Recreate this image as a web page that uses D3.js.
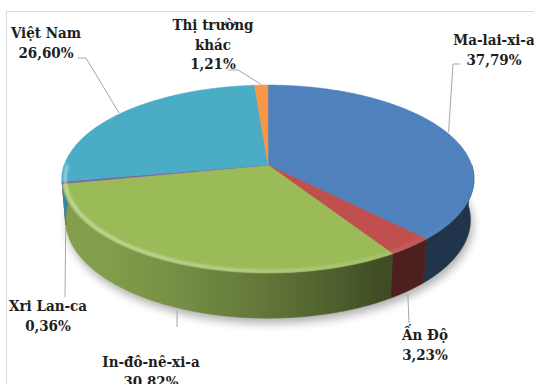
<!DOCTYPE html>
<html>
<head>
<meta charset="utf-8">
<script src="https://cdn.jsdelivr.net/npm/d3@7"></script>
<style>
  html, body { margin: 0; padding: 0; background: #fff; }
  svg { display: block; }
  .lbl { font-family: "DejaVu Serif Condensed", "DejaVu Serif", serif; font-stretch: condensed;
         font-weight: bold; font-size: 15px; fill: #1e1e1e; }
</style>
</head>
<body>
<svg id="chart" width="534" height="384"></svg>
<script>
// Market shares (%), clockwise from 12 o'clock
const categories = ["Ma-lai-xi-a", "Ấn Độ", "In-đô-nê-xi-a", "Xri Lan-ca", "Việt Nam", "Thị trường khác"];
const shares = [37.79, 3.23, 30.82, 0.36, 26.60, 1.21];
const colors = ["#4f81bd", "#c0504d", "#9bbb59", "#8064a2", "#4bacc6", "#f79646"];

// Label placement: where the leader line bends/ends and where the text block sits
const labelLayout = [
  { from: "top",  via: [[453, 64], [460, 64]], x: 494, y: 45, lines: ["Ma-lai-xi-a"] },
  { from: "side", via: [[409, 323]],           x: 425, y: 340, lines: ["Ấn Độ"] },
  { from: "side", via: [[177, 327]],           x: 151, y: 367, lines: ["In-đô-nê-xi-a"] },
  { from: "side", via: [[65, 297]],            x: 48,  y: 311, lines: ["Xri Lan-ca"] },
  { from: "top",  via: [[86, 58], [78, 58]],   x: 46,  y: 38, lines: ["Việt Nam"] },
  { from: "top",  via: [[238, 70], [228, 70]], x: 213, y: 30, lines: ["Thị trường", "khác"] }
];

const W = 534, H = 384;
const svg = d3.select("#chart");
const defs = svg.append("defs");

// Frame of the chart area
svg.append("path")
  .attr("d", `M6.5,${H} V11.5 H${W}`)
  .attr("fill", "none").attr("stroke", "#d9d9d9").attr("stroke-width", 1);

// Perspective projection of a tilted disc (unit radius, thickness h)
const cam = { cx: 268, cy: 165, f: 1220, D: 5.99, tilt: Math.asin(0.451), h: 0.226 };
const sA = Math.sin(cam.tilt), cA = Math.cos(cam.tilt);
function proj(theta, r, Y) {
  const X = r * Math.sin(theta), Z = -r * Math.cos(theta);
  const yc = Y * cA - Z * sA;
  const d = cam.D - (Y * sA + Z * cA);
  return [cam.cx + cam.f * X / d, cam.cy - cam.f * yc / d];
}

const pie = d3.pie().sort(null).value(d => d)(shares);
const slices = pie.map((p, i) => ({ ...p, name: categories[i], color: colors[i] }));

function arcPoints(a0, a1, r, Y) {
  const n = Math.max(2, Math.ceil((a1 - a0) / (Math.PI / 360)));
  return d3.range(n + 1).map(k => proj(a0 + (a1 - a0) * k / n, r, Y));
}

const line = d3.line();

// Soft drop shadow under the disc
const blur = defs.append("filter").attr("id", "shadowBlur")
  .attr("x", "-20%").attr("y", "-20%").attr("width", "140%").attr("height", "140%");
blur.append("feGaussianBlur").attr("stdDeviation", 5);
const bottomRing = arcPoints(0, 2 * Math.PI, 1, -cam.h);
svg.append("path")
  .attr("d", line(bottomRing) + "Z")
  .attr("transform", "translate(2,5)")
  .attr("fill", "#000").attr("opacity", 0.32)
  .attr("filter", "url(#shadowBlur)");

// Side wall of each slice, shaded by a light from the front-left (horizontal gradient)
const lightAngle = 240 * Math.PI / 180;
const shade = t => 0.4 + 0.45 * Math.max(0, Math.cos(t - lightAngle));
const sideG = svg.append("g");
const xLeft = proj(1.5 * Math.PI, 1, 0)[0] - 4, xRight = proj(0.5 * Math.PI, 1, 0)[0] + 4;
slices.forEach((s, i) => {
  const a0 = Math.max(s.startAngle, Math.PI / 2), a1 = Math.min(s.endAngle, 3 * Math.PI / 2);
  if (a1 <= a0) return;
  const base = d3.rgb(s.color);
  const gid = "side" + i;
  const g = defs.append("linearGradient").attr("id", gid)
    .attr("gradientUnits", "userSpaceOnUse")
    .attr("x1", xLeft).attr("x2", xRight).attr("y1", 0).attr("y2", 0);
  const n = 24;
  d3.range(n + 1).map(k => a1 - (a1 - a0) * k / n).forEach(t => {
    const k2 = shade(t);
    const x = proj(t, 1, -cam.h)[0];
    g.append("stop").attr("offset", Math.min(1, Math.max(0, (x - xLeft) / (xRight - xLeft))))
      .attr("stop-color", d3.rgb(base.r * k2, base.g * k2, base.b * k2).formatHex());
  });
  const pts = [...arcPoints(a0, a1, 1, 0), ...arcPoints(a0, a1, 1, -cam.h).reverse()];
  sideG.append("path").attr("d", line(pts) + "Z")
    .attr("fill", `url(#${gid})`).attr("stroke", `url(#${gid})`).attr("stroke-width", 0.6);
});

// Top faces
const topG = svg.append("g");
slices.forEach(s => {
  const pts = [proj(0, 0, 0), ...arcPoints(s.startAngle, s.endAngle, 1, 0)];
  topG.append("path").attr("d", line(pts) + "Z")
    .attr("fill", s.color).attr("stroke", s.color).attr("stroke-width", 0.5);
});

// Bevel highlight along the front rim
const hl = defs.append("linearGradient").attr("id", "rimHl")
  .attr("x1", 0).attr("x2", 1).attr("y1", 0).attr("y2", 0);
hl.append("stop").attr("offset", 0).attr("stop-color", "#fff").attr("stop-opacity", 0.45);
hl.append("stop").attr("offset", 0.55).attr("stop-color", "#fff").attr("stop-opacity", 0.25);
hl.append("stop").attr("offset", 1).attr("stop-color", "#fff").attr("stop-opacity", 0);
const soft = defs.append("filter").attr("id", "soft");
soft.append("feGaussianBlur").attr("stdDeviation", 1.2);
svg.append("path")
  .attr("d", line(arcPoints(Math.PI * 0.55, Math.PI * 1.5, 0.985, 0)))
  .attr("fill", "none").attr("stroke", "url(#rimHl)").attr("stroke-width", 3)
  .attr("filter", "url(#soft)");

// Leader lines and labels
const fmt = v => d3.format(".2f")(v).replace(".", ",") + "%";
const labelG = svg.append("g");
slices.forEach((s, i) => {
  const L = labelLayout[i];
  const mid = (s.startAngle + s.endAngle) / 2;
  let start;
  if (L.from === "top") start = proj(mid, 1.01, 0);
  else { const p = proj(mid, 1, -cam.h); start = [p[0], p[1] + 3]; }
  labelG.append("path").attr("d", line([start, ...L.via]))
    .attr("fill", "none").attr("stroke", "#a6a6a6").attr("stroke-width", 1);
  const text = labelG.append("text").attr("class", "lbl").attr("text-anchor", "middle");
  [...L.lines, fmt(s.value)].forEach((t, j) => {
    text.append("tspan").attr("x", L.x).attr("y", L.y + j * 19.5).text(t);
  });
});
</script>
</body>
</html>
